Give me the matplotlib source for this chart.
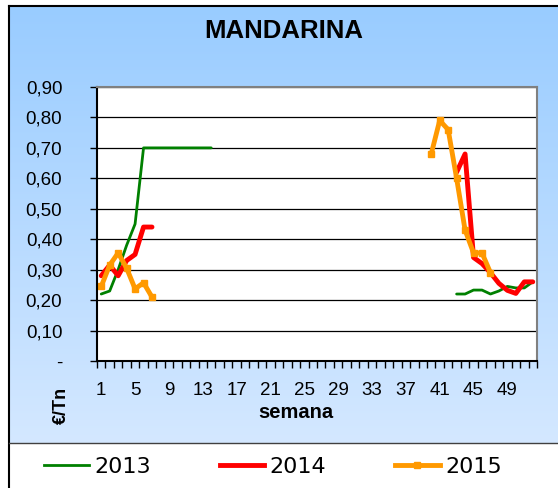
import numpy as np
import matplotlib.pyplot as plt
from matplotlib.lines import Line2D

# weekly prices (€/Tn), NaN = no quotation
weeks = np.arange(1, 53)
nan = np.nan

p2013 = {1: 0.22, 2: 0.23, 3: 0.30, 4: 0.38, 5: 0.45, 6: 0.70, 7: 0.70, 8: 0.70,
         9: 0.70, 10: 0.70, 11: 0.70, 12: 0.70, 13: 0.70, 14: 0.70,
         43: 0.22, 44: 0.22, 45: 0.233, 46: 0.233, 47: 0.22, 48: 0.23,
         49: 0.245, 50: 0.24, 51: 0.24, 52: 0.26}
p2014 = {1: 0.28, 2: 0.315, 3: 0.28, 4: 0.33, 5: 0.35, 6: 0.44, 7: 0.44,
         43: 0.62, 44: 0.68, 45: 0.34, 46: 0.32, 47: 0.29, 48: 0.255,
         49: 0.232, 50: 0.222, 51: 0.26, 52: 0.26}
p2015 = {1: 0.245, 2: 0.315, 3: 0.355, 4: 0.305, 5: 0.237, 6: 0.257, 7: 0.21,
         40: 0.68, 41: 0.79, 42: 0.76, 43: 0.60, 44: 0.43, 45: 0.355,
         46: 0.355, 47: 0.29}

years = ['2013', '2014', '2015']
colors = ['#008000', '#FF0000', '#FF9900']


def series(d):
    return np.array([d.get(w, nan) for w in weeks])


fig = plt.figure(figsize=(5.58, 4.88), dpi=100)
W, H = 558, 488

# blue gradient background
bg = fig.add_axes([9 / W, 45 / H, 1 - 9 / W, (443 - 7) / H], zorder=-5)
grad = np.linspace(0, 1, 256).reshape(-1, 1)
top = np.array([0x99, 0xCC, 0xFF]) / 255
bot = np.array([0xD4, 0xE8, 0xFF]) / 255
img = top * (1 - grad[..., None]) + bot * grad[..., None]
bg.imshow(img, aspect='auto', extent=[0, 1, 0, 1])
bg.set_axis_off()

# outer border lines
fig.add_artist(Line2D([9 / W, 1], [1 - 6 / H, 1 - 6 / H], color='black', lw=1.5))
fig.add_artist(Line2D([9 / W, 9 / W], [0, 1 - 6 / H], color='black', lw=1.5))
fig.add_artist(Line2D([9 / W, 1], [45 / H, 45 / H], color='#404040', lw=1))

fig.text(284 / W, 1 - 31 / H, 'MANDARINA', ha='center', va='center',
         fontsize=18.5, fontweight='bold', family='Liberation Sans')

ax = fig.add_axes([97 / W, (H - 361) / H, 440 / W, 274 / H])
ax.set_facecolor('white')

ax.plot(weeks, series(p2013), color=colors[0], lw=2, solid_capstyle='round')
ax.plot(weeks, series(p2014), color=colors[1], lw=3.5, solid_capstyle='round')
ax.plot(weeks, series(p2015), color=colors[2], lw=3.5, marker='s', ms=5,
        solid_capstyle='round')

ax.set_xlim(0.5, 52.5)
ax.set_ylim(0, 0.9)
yt = np.round(np.arange(0, 0.91, 0.1), 2)
ax.set_yticks(yt)
ax.set_yticklabels(['-'] + [f'{v:.2f}'.replace('.', ',') for v in yt[1:]])
ax.set_xticks(np.arange(1, 53, 4))
ax.set_xticks(np.arange(0.5, 53, 1), minor=True)
ax.tick_params(axis='x', which='major', length=0, pad=15, labelsize=13.5)
ax.tick_params(axis='x', which='minor', length=5, width=1, direction='out')
ax.tick_params(axis='y', length=5, width=1, labelsize=13.5, pad=20)
for lab in ax.get_xticklabels() + ax.get_yticklabels():
    lab.set_family('Liberation Sans')
ax.grid(axis='y', color='black', lw=0.9)
ax.set_axisbelow(True)
for s in ax.spines.values():
    s.set_color('#808080')
    s.set_linewidth(1.5)
ax.spines['left'].set_color('black')
ax.spines['bottom'].set_color('black')

fig.text(296 / W, 1 - 412 / H, 'semana', ha='center', va='center',
         fontsize=14.5, fontweight='bold', family='Liberation Sans')
fig.text(61 / W, 1 - 405 / H, '€/Tn', ha='center', va='center', rotation=90,
         fontsize=13, fontweight='bold', family='Liberation Sans')

handles = [Line2D([], [], color=colors[0], lw=2),
           Line2D([], [], color=colors[1], lw=3.5),
           Line2D([], [], color=colors[2], lw=3.5, marker='s', ms=5)]
fig.legend(handles, years, loc='center', bbox_to_anchor=(273 / W, 1 - 467 / H),
           ncol=3, frameon=False, handlelength=2.0,
           columnspacing=3.1, handletextpad=0.25,
           prop={'family': 'DejaVu Sans', 'size': 16})

fig.savefig('out.png', dpi=100)
